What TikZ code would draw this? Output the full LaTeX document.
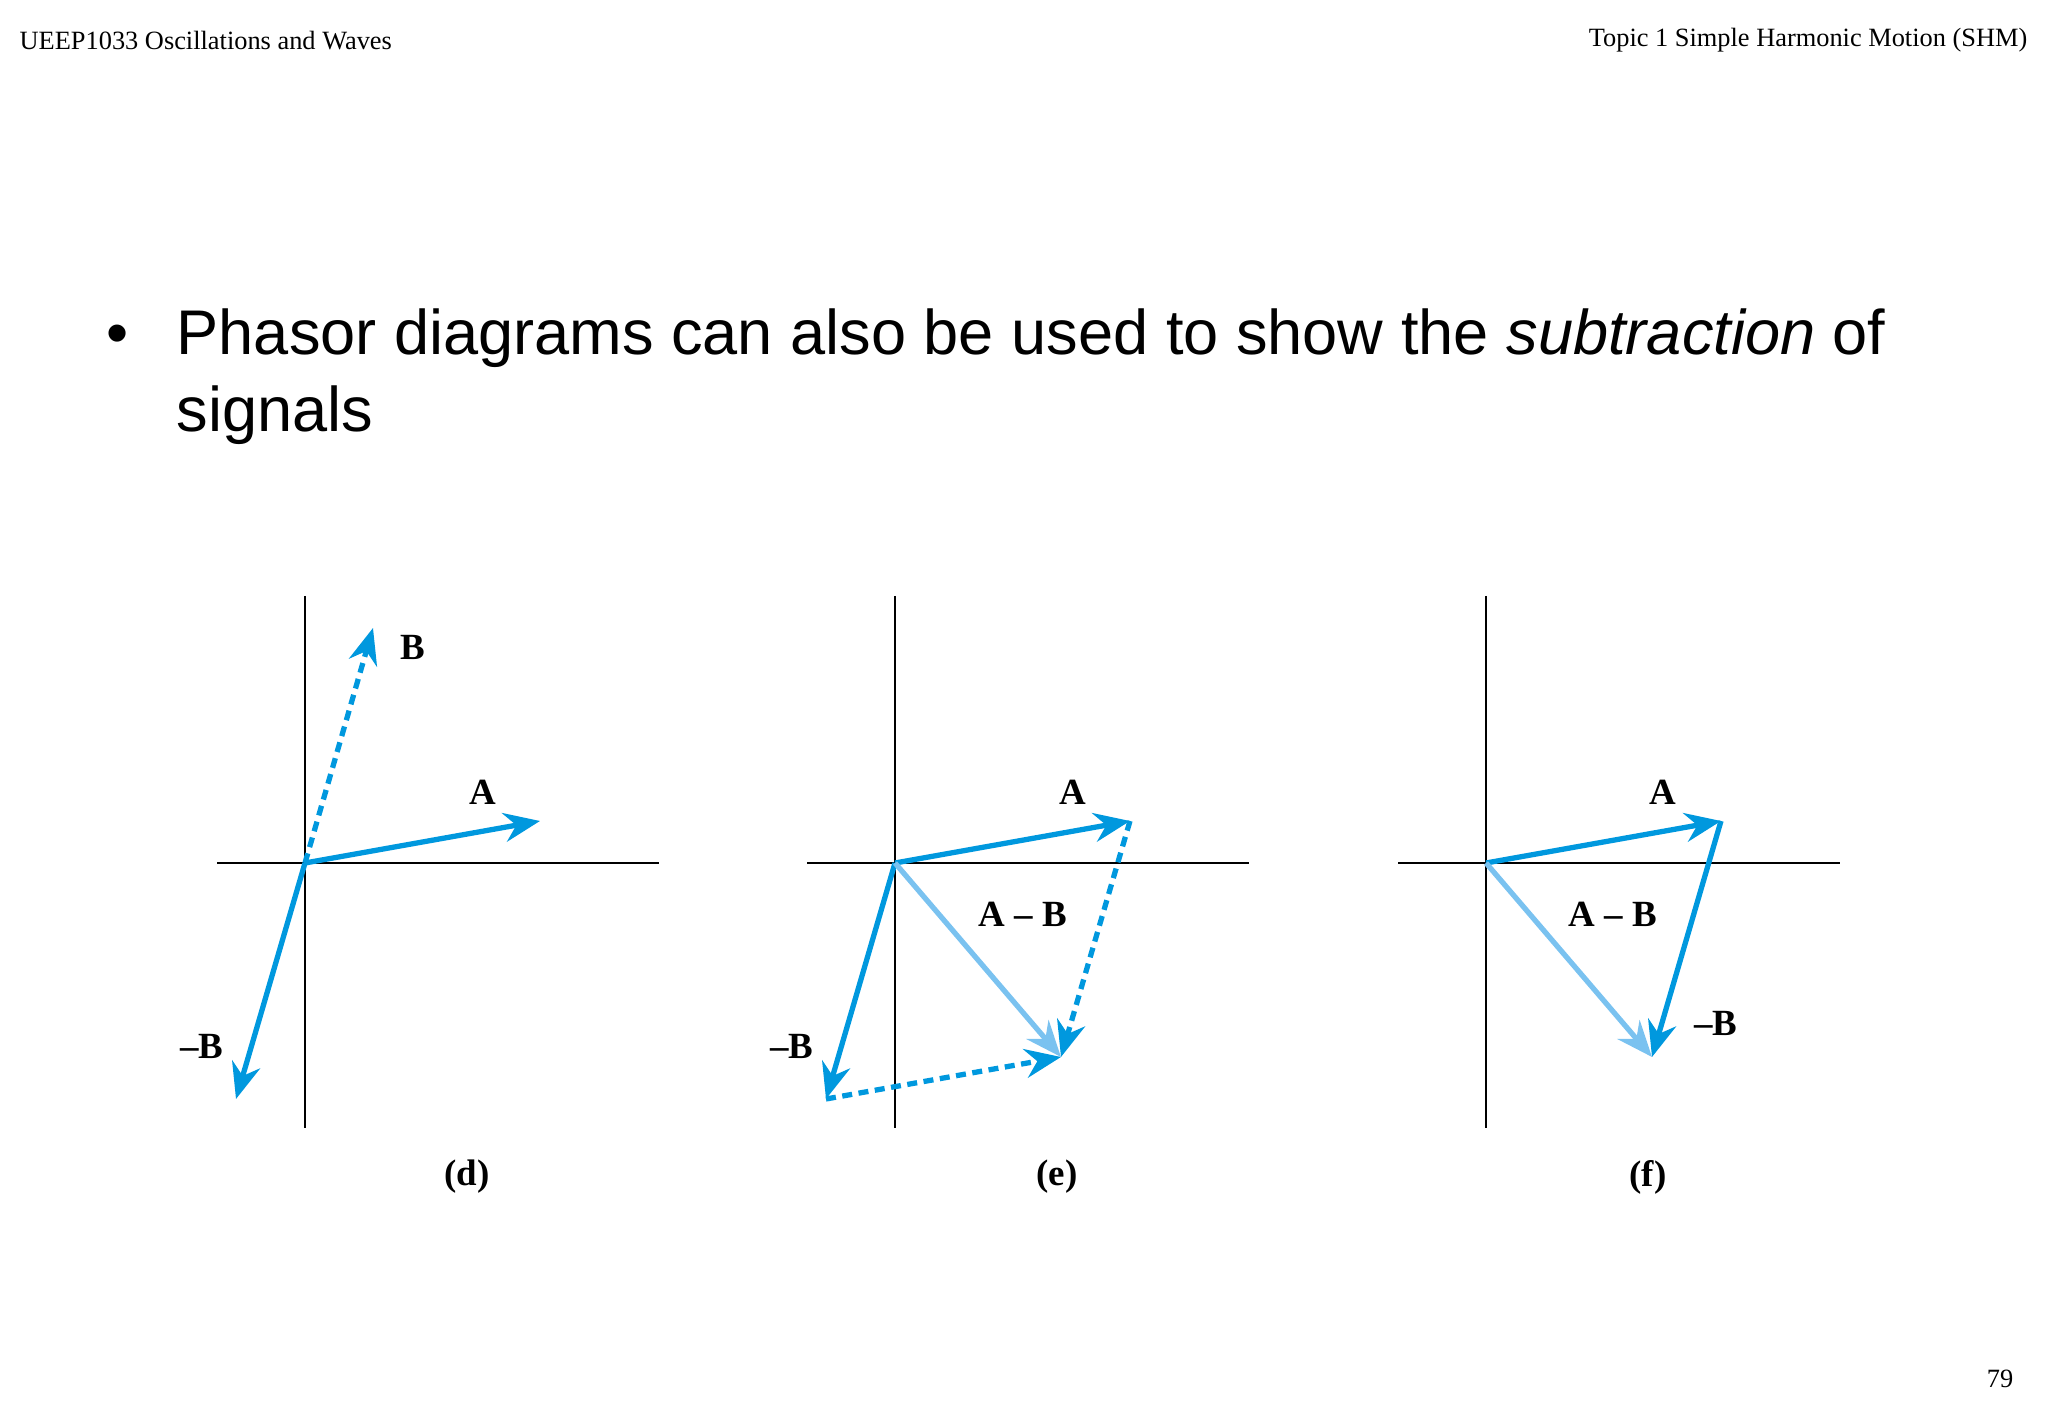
\documentclass[tikz,border=0pt]{standalone}
\usepackage{fontspec}
\setmainfont{Liberation Serif}
\setsansfont{Liberation Sans}
\usetikzlibrary{positioning,arrows.meta}
\definecolor{phasor}{RGB}{0,152,222}
\definecolor{phasorlight}{RGB}{122,194,240}

\begin{document}
\begin{tikzpicture}[x=0.01cm, y=0.01cm]

    % Define styles
    \tikzstyle{axis} = [line width=0.7pt, black]
    \tikzstyle{vec} = [line width=1.5pt, phasor, -{Stealth[length=0.36cm, width=0.29cm, inset=0.12cm]}]
    \tikzstyle{diff} = [vec, phasorlight]
    \tikzstyle{shifted} = [vec, dash pattern=on 0.1cm off 0.065cm]
    \tikzstyle{lbl} = [font=\fontsize{10.5pt}{12pt}\selectfont\bfseries, inner sep=0pt]
    \tikzstyle{header} = [font=\fontsize{7.5pt}{9pt}\selectfont, inner sep=0pt]
    \tikzstyle{body} = [font=\sffamily\fontsize{17.95pt}{22pt}\selectfont, inner sep=0pt]

    \useasboundingbox (0,0) rectangle (2048,1418);

    % Header and page number
    \node [header, anchor=base west] (course) at (19,1368) {UEEP1033 Oscillations and Waves};
    \node [header, anchor=base east] (topic) at (2028,1371) {Topic 1 Simple Harmonic Motion (SHM)};
    \node [header, anchor=base east] (page) at (2014,30) {79};

    % Bullet point
    \node [body, anchor=base west] (dot) at (106,1063) {\textbullet};
    \node [body, anchor=base west] (line1) at (176,1063) {Phasor diagrams can also be used to show the \textit{subtraction} of};
    \node [body, anchor=base west] (line2) at ([yshift=-0.76cm]line1.base west) {signals};

    % Panel (d)
    \coordinate (dO) at (305,555);
    \coordinate (dL) at (217,555); \coordinate (dR) at (659,555);
    \coordinate (dTop) at (305,822); \coordinate (dBot) at (305,290);
    \coordinate (dA) at (540,597);
    \coordinate (dB) at (373,790);
    \coordinate (dmB) at (236,319);
    \draw [axis] (dL) -- (dR);
    \draw [axis] (dTop) -- (dBot);
    \draw [shifted] (dO) -- (dB);
    \draw [vec] (dO) -- (dA);
    \draw [vec] (dO) -- (dmB);
    \node [lbl] (dlblB) at (413,771) {B};
    \node [lbl] (dlblA) at (483,626) {A};
    \node [lbl] (dlblmB) at (202,372) {--B};
    \node [lbl] (dcap) at (467,241) {(d)};

    % Panel (e)
    \coordinate (eO) at (895,555);
    \coordinate (eL) at (807,555); \coordinate (eR) at (1249,555);
    \coordinate (eTop) at (895,822); \coordinate (eBot) at (895,290);
    \coordinate (eA) at (1130,597);
    \coordinate (emB) at (826,319);
    \coordinate (eD) at (1061,361);
    \draw [axis] (eL) -- (eR);
    \draw [axis] (eTop) -- (eBot);
    \draw [vec] (eO) -- (eA);
    \draw [vec] (eO) -- (emB);
    \draw [diff] (eO) -- (eD);
    \draw [shifted] (eA) -- (eD);
    \draw [shifted] (emB) -- (eD);
    \node [lbl] (elblA) at (1073,626) {A};
    \node [lbl] (elblD) at (1023,504) {A -- B};
    \node [lbl] (elblmB) at (792,372) {--B};
    \node [lbl] (ecap) at (1057,241) {(e)};

    % Panel (f)
    \coordinate (fO) at (1486,555);
    \coordinate (fL) at (1398,555); \coordinate (fR) at (1840,555);
    \coordinate (fTop) at (1486,822); \coordinate (fBot) at (1486,290);
    \coordinate (fA) at (1721,597);
    \coordinate (fD) at (1652,361);
    \draw [axis] (fL) -- (fR);
    \draw [axis] (fTop) -- (fBot);
    \draw [vec] (fO) -- (fA);
    \draw [diff] (fO) -- (fD);
    \draw [vec] (fA) -- (fD);
    \node [lbl] (flblA) at (1663,626) {A};
    \node [lbl] (flblD) at (1613,504) {A -- B};
    \node [lbl] (flblmB) at (1716,395) {--B};
    \node [lbl] (fcap) at (1648,241) {(f)};

\end{tikzpicture}
\end{document}
